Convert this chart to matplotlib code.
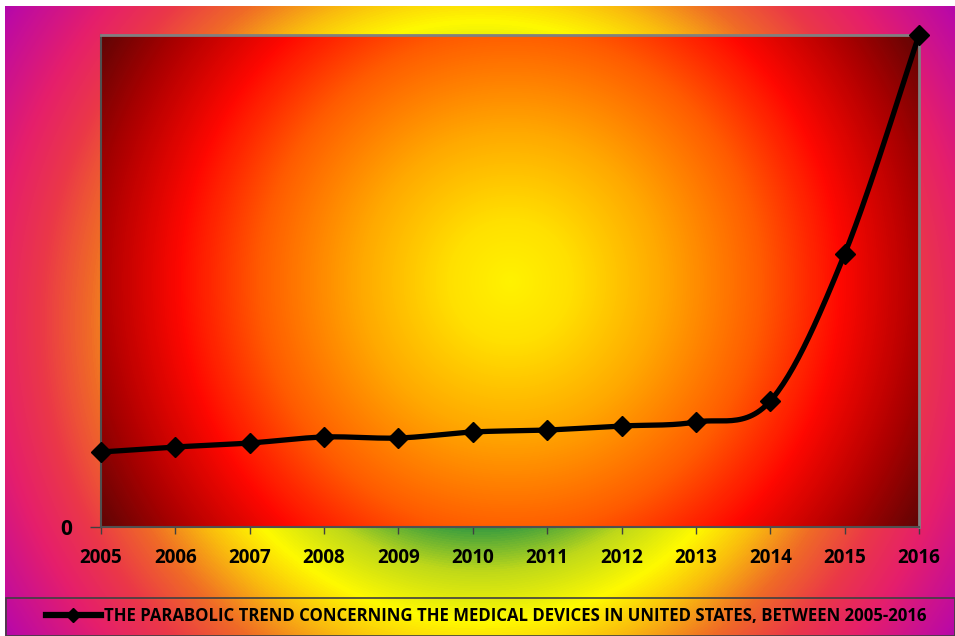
import numpy as np
import matplotlib.pyplot as plt
from matplotlib.colors import LinearSegmentedColormap
from matplotlib.patches import Rectangle
from matplotlib.lines import Line2D

years = [2005, 2006, 2007, 2008, 2009, 2010, 2011, 2012, 2013, 2014, 2015, 2016]
values = [75, 80, 84, 90, 89, 95, 97, 101, 105, 126, 273, 492]
legend_label = "THE PARABOLIC TREND CONCERNING THE MEDICAL DEVICES IN UNITED STATES, BETWEEN 2005-2016"

plt.rcParams['font.family'] = ['Open Sans', 'DejaVu Sans']
plt.rcParams['font.weight'] = 'bold'

W, H = 955, 636
fig = plt.figure(figsize=(W / 100, H / 100), dpi=100)
fig.patch.set_facecolor('white')


def smooth(xs, ys, xscale, n=30):
    # catmull-rom through the points, done in screen-like units
    px = np.asarray(xs, float) * xscale
    py = np.asarray(ys, float)
    P = np.column_stack([px, py])
    P = np.vstack([P[0], P, P[-1]])
    out = []
    for i in range(1, len(P) - 2):
        p0, p1, p2, p3 = P[i - 1], P[i], P[i + 1], P[i + 2]
        c1 = p1 + (p2 - p0) / 6
        c2 = p2 - (p3 - p1) / 6
        t = np.linspace(0, 1, n)[:, None]
        seg = (1 - t) ** 3 * p1 + 3 * (1 - t) ** 2 * t * c1 + 3 * (1 - t) * t ** 2 * c2 + t ** 3 * p2
        out.append(seg)
    out = np.vstack(out)
    return out[:, 0] / xscale, out[:, 1]


# outer background, ring gradient around the middle of the chart
bx0, by0, bx1, by1 = 5, 6, 955, 636
bg = fig.add_axes([bx0 / W, 1 - by1 / H, (bx1 - bx0) / W, (by1 - by0) / H], zorder=0)
yy, xx = np.mgrid[by0:by1, bx0:bx1]
r = np.hypot(xx - 480, yy - 321)
outer_cmap = LinearSegmentedColormap.from_list('outer', [
    (0.0, (0.13, 0.55, 0.27)),
    (200 / 600, (0.15, 0.58, 0.27)),
    (250 / 600, (0.75, 0.85, 0.10)),
    (300 / 600, (1.0, 0.98, 0.0)),
    (340 / 600, (0.98, 0.75, 0.05)),
    (390 / 600, (0.94, 0.42, 0.15)),
    (440 / 600, (0.92, 0.22, 0.28)),
    (490 / 600, (0.90, 0.12, 0.42)),
    (560 / 600, (0.74, 0.04, 0.64)),
    (1.0, (0.58, 0.0, 0.74)),
])
bg.imshow(r, cmap=outer_cmap, vmin=0, vmax=600, aspect='auto', interpolation='bilinear')
bg.set_axis_off()

# plot area
px0, py0, px1, py1 = 101, 35, 919, 527
ax = fig.add_axes([px0 / W, 1 - py1 / H, (px1 - px0) / W, (py1 - py0) / H], zorder=1)
gy, gx = np.mgrid[py0:py1, px0:px1]
pr = np.hypot(gx - 510, gy - 281)
inner_cmap = LinearSegmentedColormap.from_list('inner', [
    (0.0, (1.0, 0.95, 0.0)),
    (60 / 480, (1.0, 0.88, 0.0)),
    (150 / 480, (1.0, 0.66, 0.0)),
    (250 / 480, (1.0, 0.36, 0.0)),
    (330 / 480, (1.0, 0.03, 0.0)),
    (410 / 480, (0.68, 0.0, 0.0)),
    (1.0, (0.36, 0.02, 0.02)),
])
ax.imshow(pr, cmap=inner_cmap, vmin=0, vmax=480, aspect='auto', interpolation='bilinear',
          extent=[0, 1, 0, 1], transform=ax.transAxes, zorder=0)

sx, sy = smooth(years, values, 74.4)
ax.plot(sx, sy, color='black', lw=3.8, zorder=3, solid_capstyle='round', clip_on=False)
ax.plot(years, values, linestyle='none', marker='D', ms=10, color='black', zorder=4, clip_on=False)

ax.set_xlim(years[0], years[-1])
ax.set_ylim(0, max(values))
ax.set_xticks(years)
ax.set_xticklabels([str(y) for y in years], fontsize=13.5, fontweight='bold')
ax.set_yticks([0])
ax.set_yticklabels(['0'], fontsize=15, fontweight='bold')
ax.tick_params(axis='x', direction='out', length=5, width=1, color='#404040', pad=10)
ax.tick_params(axis='y', direction='out', length=8, width=1, color='#404040', pad=13)
for side in ['top', 'right']:
    ax.spines[side].set_color('#808080')
    ax.spines[side].set_linewidth(2)
ax.spines['left'].set_color('#505050')
ax.spines['left'].set_linewidth(1.5)
ax.spines['bottom'].set_color('#505050')
ax.spines['bottom'].set_linewidth(1.5)

# legend strip along the bottom
fig.patches.append(Rectangle((6 / W, 0), 949 / W, 38 / H, transform=fig.transFigure,
                             fill=False, edgecolor='#404040', lw=1.2, zorder=5))
handle = Line2D([], [], color='black', lw=4.5, marker='D', ms=7)
fig.legend([handle], [legend_label], loc='center', bbox_to_anchor=(486 / W, 20 / H),
           frameon=False, handlelength=3.3, handletextpad=0.15,
           prop={'weight': 'bold', 'size': 12.1})

fig.savefig('out.png', dpi=100, facecolor='white')
